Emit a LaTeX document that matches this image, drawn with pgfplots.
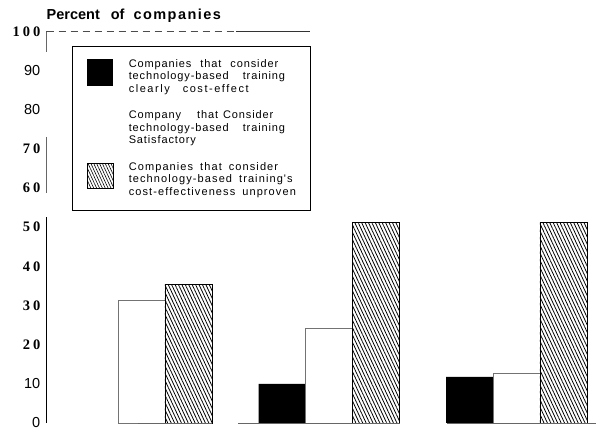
\documentclass[border=0pt]{standalone}
\usepackage{fontspec}
\setmainfont{Liberation Sans}
\newfontfamily\serbfont[LetterSpace=20]{Liberation Serif}
\newfontfamily\legfont[LetterSpace=8]{Liberation Sans}
\usepackage{pgfplots}
\pgfplotsset{compat=1.18}
\usetikzlibrary{patterns.meta}
\newcommand{\tsans}[1]{{\fontsize{14.5}{16}\selectfont #1}}
\newcommand{\tserb}[1]{{\serbfont\bfseries\fontsize{14.5}{16}\selectfont #1}}
\newcommand{\lega}{\fontsize{11}{12.6}\legfont\selectfont\spaceskip=9pt\relax}
\begin{document}
\begin{tikzpicture}
\useasboundingbox (-46.5pt,-7pt) rectangle (560.5pt,423pt);
\begin{axis}[
  scale only axis, width=550.5pt, height=391.5pt,
  xmin=0.4933, xmax=3.4293, ymin=0, ymax=100,
  axis x line=none, axis y line=left,
  y axis line style={draw=none},
  xtick=\empty,
  ytick={0,10,...,100},
  yticklabels={\tsans{\raisebox{-3pt}{0}},\tsans{10},\tserb{20},\tserb{30},\tserb{40},\tserb{50},\tserb{60},\tserb{70},\tsans{80},\tsans{90},\tserb{100}},
  yticklabel style={anchor=east, inner sep=0pt, xshift=-6pt},
  major tick length=0pt,
  clip=false,
  title={Percent\hspace{11pt}of\hspace{9pt}{\addfontfeature{LetterSpace=10}companies}},
  title style={at={(0,1)}, anchor=base west, yshift=5.5pt, inner sep=0pt, font=\bfseries\fontsize{14.5}{16}\selectfont},
  legend style={at={(0.0463,0.963)}, anchor=north west, draw=black, line width=1pt,
    inner xsep=7pt, inner ysep=4.75pt, row sep=0pt, column sep=15pt,
    font=\lega,
    nodes={inner sep=0pt, text width=175pt, align=left},
    cells={anchor=west}},
]
\addplot[ybar, bar width=0.25, bar shift=-0.25, fill=black, draw=none,
  legend image code/.code={\path[draw=none,fill=none] (-8pt,-38.75pt) rectangle (26pt,12.75pt);
    \fill[black] (0pt,-22.5pt) rectangle (26pt,4.5pt);}]
  coordinates {(2,10.0) (3,11.8)};
\addlegendentry{\lega Companies that consider\\technology-based\hspace{14pt}training\\{\addfontfeature{LetterSpace=14}clearly\hspace{13pt}cost-effect}}
\addplot[ybar, bar width=0.25, bar shift=0, fill=white, draw=black!55, line width=0.5pt,
  legend image code/.code={\path[draw=none,fill=none] (-8pt,-38.75pt) rectangle (26pt,12.75pt);}]
  coordinates {(1,31.4) (2,24.3) (3,12.8)};
\addlegendentry{\lega Company\hspace{16pt}that\hspace{5pt}Consider\\technology-based\hspace{14pt}training\\Satisfactory}
\addplot[ybar, bar width=0.25, bar shift=0.25, draw=black, line width=0.6pt,
  pattern={Lines[angle=115,distance=3.1pt,line width=0.8pt]}, pattern color=black,
  legend image code/.code={\path[draw=none,fill=none,pattern=none] (-8pt,-38.75pt) rectangle (26pt,12.75pt);
    \draw[line width=0.5pt, pattern={Lines[angle=115,distance=2.6pt,line width=0.6pt]}] (0pt,-21.5pt) rectangle (26pt,3.5pt);}]
  coordinates {(1,35.4) (2,51.2) (3,51.2)};
\addlegendentry{\lega\addfontfeature{LetterSpace=10}\spaceskip=7pt\relax Companies that consider\\technology-based training's\\cost-effectiveness unproven}
% axis line pieces and frame remnants
\draw[black!60, line width=0.8pt] (axis cs:0.4933,100) -- (axis cs:0.4933,94.8);
\draw[black!60, line width=0.8pt] (axis cs:0.4933,73.1) -- (axis cs:0.4933,58.7);
\draw[black, line width=0.8pt] (axis cs:0.4933,52.6) -- (axis cs:0.4933,0);
\draw[black!70, line width=0.6pt, dash pattern=on 7pt off 5pt] (axis cs:0.4933,100) -- (axis cs:1.504,100);
\draw[black!80, line width=0.8pt] (axis cs:1.504,100) -- (axis cs:1.8987,100);
\draw[black!60, line width=0.6pt] (axis cs:0.9813,0) -- (axis cs:1.376,0);
\draw[black!60, line width=0.6pt] (axis cs:1.5147,0) -- (axis cs:2.3787,0);
\draw[black!60, line width=0.6pt] (axis cs:2.6293,0) -- (axis cs:3.424,0);
\end{axis}
\end{tikzpicture}
\end{document}
